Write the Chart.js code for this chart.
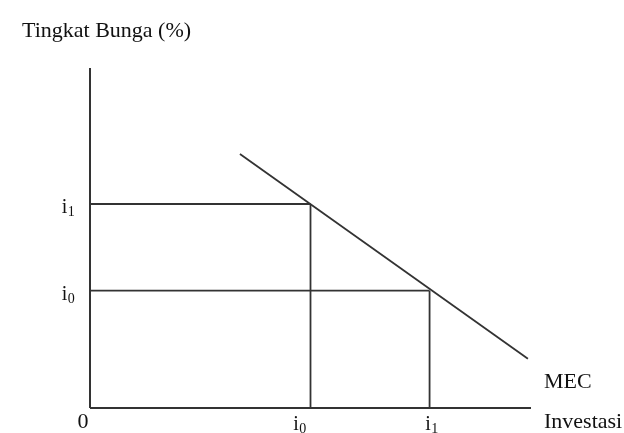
<!DOCTYPE html>
<html>
<head>
<meta charset="utf-8">
<script src="https://cdn.jsdelivr.net/npm/chart.js@4/dist/chart.umd.min.js"></script>
<style>
  html, body { margin: 0; padding: 0; background: #fff; }
  #wrap { width: 624px; height: 433px; }
</style>
</head>
<body>
<div id="wrap"><canvas id="mecChart" width="624" height="433"></canvas></div>
<script>
// Kurva MEC (marginal efficiency of capital)
const mecX = [3.4, 9.93];
const mecY = [7.47, 1.45];

// Titik investasi di sumbu X dan tingkat bunga di sumbu Y
const sumbuXLabels = ['0', '1'];     // subscript: i0, i1
const sumbuXNilai = [5.0, 7.7];
const sumbuYLabels = ['1', '0'];     // subscript: i1, i0
const sumbuYNilai = [6.0, 3.45];

const xMax = 10;
const yMax = 10;

const warnaGaris = '#333333';
const serif = '"Liberation Serif", "Times New Roman", serif';

const garis = (pts, width) => ({
    data: pts,
    showLine: true,
    pointRadius: 0,
    borderColor: warnaGaris,
    borderWidth: width,
    clip: false,
    tension: 0,
});

const datasets = [
    garis([{ x: 0, y: 0 }, { x: 0, y: yMax }], 2),           // sumbu Y
    garis([{ x: 0, y: 0 }, { x: xMax, y: 0 }], 2),           // sumbu X
    garis(mecX.map((x, i) => ({ x, y: mecY[i] })), 1.8),     // MEC
];

// garis bantu horizontal & vertikal ke titik pada kurva
sumbuXNilai.forEach((xv, i) => {
    const yv = sumbuYNilai[i];
    datasets.push(garis([{ x: 0, y: yv }, { x: xv, y: yv }], 1.8));
    datasets.push(garis([{ x: xv, y: 0 }, { x: xv, y: yv }], 1.8));
});

// draws "i" with a small subscript digit, centred on cx
const drawSub = (ctx, cx, baseline, sub) => {
    ctx.font = '20px ' + serif;
    const wI = ctx.measureText('i').width;
    ctx.font = '14px ' + serif;
    const wS = ctx.measureText(sub).width;
    const left = cx - (wI + wS) / 2;
    ctx.font = '20px ' + serif;
    ctx.fillText('i', left, baseline);
    ctx.font = '14px ' + serif;
    ctx.fillText(sub, left + wI + 0.5, baseline + 3);
};

const teksPlugin = {
    id: 'teks',
    afterDraw(chart) {
        const ctx = chart.ctx;
        const xs = chart.scales.x;
        const ys = chart.scales.y;
        ctx.save();
        ctx.fillStyle = '#111111';
        ctx.textAlign = 'left';
        ctx.textBaseline = 'alphabetic';

        ctx.font = '22px ' + serif;
        ctx.fillText('Tingkat Bunga (%)', 22, 37);

        const x0 = xs.getPixelForValue(0);
        const y0 = ys.getPixelForValue(0);
        ctx.textAlign = 'center';
        ctx.fillText('0', x0 - 7, y0 + 20);

        ctx.textAlign = 'left';
        const xKanan = xs.getPixelForValue(xMax);
        ctx.fillText('MEC', xKanan + 13, y0 - 20);
        ctx.fillText('Investasi', xKanan + 13, y0 + 20);

        // label sumbu X
        const geserX = [-11, 2];
        sumbuXNilai.forEach((v, i) => {
            drawSub(ctx, xs.getPixelForValue(v) + geserX[i], y0 + 22, sumbuXLabels[i]);
        });
        // label sumbu Y
        sumbuYNilai.forEach((v, i) => {
            drawSub(ctx, x0 - 22, ys.getPixelForValue(v) + 9, sumbuYLabels[i]);
        });
        ctx.restore();
    }
};

new Chart(document.getElementById('mecChart').getContext('2d'), {
    type: 'scatter',
    data: { datasets },
    options: {
        responsive: false,
        animation: false,
        devicePixelRatio: 1,
        layout: { padding: { left: 90, top: 68, right: 93, bottom: 25 } },
        plugins: { legend: { display: false }, tooltip: { enabled: false } },
        scales: {
            x: { type: 'linear', min: 0, max: xMax, display: false },
            y: { type: 'linear', min: 0, max: yMax, display: false },
        },
    },
    plugins: [teksPlugin],
});
</script>
</body>
</html>
